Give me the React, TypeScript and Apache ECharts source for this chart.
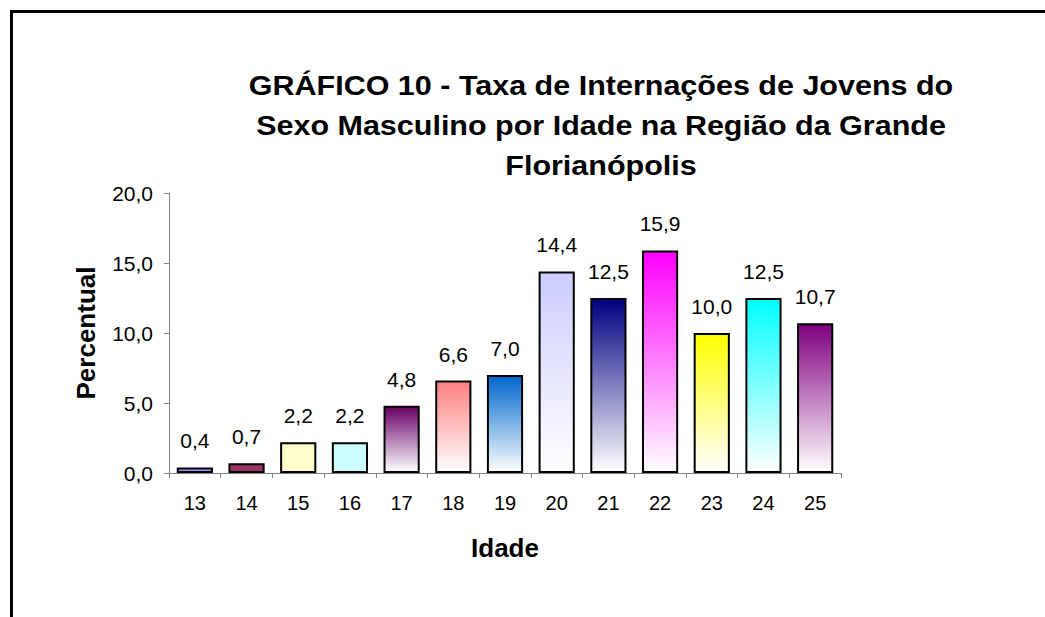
import React, { useEffect, useRef } from "react";
import * as echarts from "echarts";

const ages = ["13", "14", "15", "16", "17", "18", "19", "20", "21", "22", "23", "24", "25"];
const values = [0.4, 0.7, 2.2, 2.2, 4.8, 6.6, 7.0, 14.4, 12.5, 15.9, 10.0, 12.5, 10.7];
const topColors = ["#9999FF", "#993366", "#FFFFCC", "#CCFFFF", "#660066", "#FF8080", "#0066CC", "#CCCCFF", "#000080", "#FF00FF", "#FFFF00", "#00FFFF", "#800080"];
const gradientFill = [false, false, false, false, true, true, true, true, true, true, true, true, true];
const yTicks = [0, 5, 10, 15, 20];

const titleText = "GRÁFICO 10 - Taxa de Internações de Jovens do\nSexo Masculino por Idade na Região da Grande\nFlorianópolis";

const fmt = (v: number) => v.toFixed(1).replace(".", ",");

export default function App() {
  const ref = useRef<HTMLDivElement>(null);
  useEffect(() => {
    if (!ref.current) return;
    const chart = echarts.init(ref.current, null, { renderer: "svg" });
    const font = "'Liberation Sans', Arial, sans-serif";
    chart.setOption({
      animation: false,
      backgroundColor: "#fff",
      textStyle: { fontFamily: font },
      graphic: [
        { type: "rect", shape: { x: 10, y: 10, width: 3, height: 620 }, style: { fill: "#000" } },
        { type: "rect", shape: { x: 10, y: 10, width: 1040, height: 3 }, style: { fill: "#000" } },
        {
          type: "text",
          x: 601,
          y: 125,
          scaleX: 1.09,
          style: {
            text: titleText,
            fontFamily: font,
            fontWeight: "bold",
            fontSize: 28,
            lineHeight: 40,
            fill: "#000",
            textAlign: "center",
            textVerticalAlign: "middle",
          },
        },
      ],
      grid: { left: 169, right: 204, top: 193, bottom: 144 },
      xAxis: {
        type: "category",
        data: ages,
        name: "Idade",
        nameLocation: "middle",
        nameGap: 62,
        nameTextStyle: { fontFamily: font, fontWeight: "bold", fontSize: 26, color: "#000" },
        axisLine: { lineStyle: { color: "#808080", width: 1 } },
        axisTick: { show: true, length: 5, lineStyle: { color: "#808080" } },
        axisLabel: { fontFamily: font, fontSize: 20, color: "#000", margin: 20 },
      },
      yAxis: {
        type: "value",
        min: yTicks[0],
        max: yTicks[yTicks.length - 1],
        interval: 5,
        name: "Percentual",
        nameLocation: "middle",
        nameGap: 70,
        nameTextStyle: { fontFamily: font, fontWeight: "bold", fontSize: 26, color: "#000" },
        axisLine: { show: true, lineStyle: { color: "#808080", width: 1 } },
        axisTick: { show: true, length: 5, lineStyle: { color: "#808080" } },
        splitLine: { show: false },
        axisLabel: { fontFamily: font, fontSize: 21, color: "#000", margin: 16, formatter: (v: number) => fmt(v) },
      },
      series: [
        {
          type: "bar",
          barCategoryGap: "30%",
          data: values.map((v, i) => ({
            value: v,
            itemStyle: {
              color: gradientFill[i]
                ? new echarts.graphic.LinearGradient(0, 0, 0, 1, [
                    { offset: 0, color: topColors[i] },
                    { offset: 1, color: "#FFFFFF" },
                  ])
                : topColors[i],
              borderColor: "#000",
              borderWidth: 2,
            },
          })),
          label: {
            show: true,
            position: "top",
            distance: 16,
            fontFamily: font,
            fontSize: 21,
            color: "#000",
            formatter: (p: any) => fmt(p.value),
          },
        },
      ],
    });
    return () => chart.dispose();
  }, []);
  return <div ref={ref} style={{ position: "fixed", left: 0, top: 0, width: 1045, height: 617 }} />;
}
